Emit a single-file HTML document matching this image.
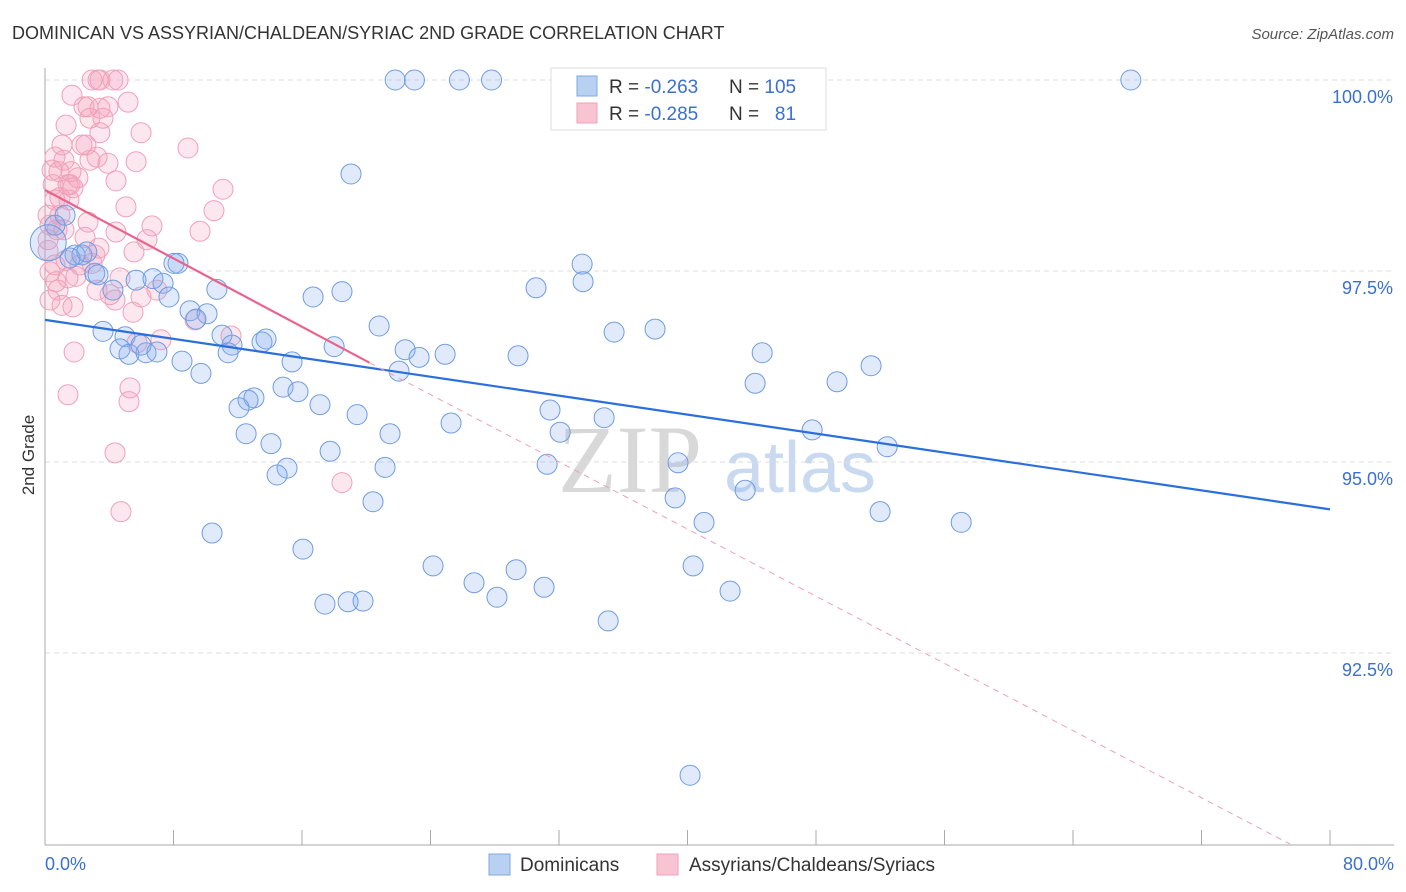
<!DOCTYPE html>
<html><head><meta charset="utf-8"><style>
body{margin:0;background:#fff;font-family:"Liberation Sans",sans-serif;}
svg{display:block}
</style></head><body>
<svg id="chart" width="1406" height="892">
<text x="12" y="39" font-size="18" fill="#333">DOMINICAN VS ASSYRIAN/CHALDEAN/SYRIAC 2ND GRADE CORRELATION CHART</text>
<text x="1394" y="39" font-size="15" fill="#555" text-anchor="end" font-style="italic">Source: ZipAtlas.com</text>
<text x="34" y="455" font-size="17" fill="#333" text-anchor="middle" transform="rotate(-90 34 455)">2nd Grade</text>
<text x="630" y="492" font-size="96" fill="#d8d8d8" font-family="Liberation Serif,serif" text-anchor="middle">ZIP</text>
<text x="800" y="492" font-size="72" fill="#c9daf0" text-anchor="middle">atlas</text>
<g id="grid"></g><g id="axes"></g><g id="pink"></g><g id="blue"></g><g id="lines"></g>
<g>
<rect x="551" y="68" width="275" height="62" fill="#fff" stroke="#ddd"/>
<rect x="577" y="76" width="20" height="20" fill="#b8d0f2" stroke="#7fa8e0"/>
<rect x="577" y="103" width="20" height="20" fill="#f8c4d2" stroke="#eea0b8"/>
<text x="609" y="93" font-size="19" fill="#333">R = <tspan fill="#3a70d0">-0.263</tspan></text>
<text x="729" y="93" font-size="19" fill="#333">N = <tspan fill="#3a70d0">105</tspan></text>
<text x="609" y="120" font-size="19" fill="#333">R = <tspan fill="#3a70d0">-0.285</tspan></text>
<text x="729" y="120" font-size="19" fill="#333">N = <tspan fill="#3a70d0">&#160;&#160;81</tspan></text>
</g>
<g>
<rect x="489" y="854" width="21" height="21" fill="#b8d0f2" stroke="#7fa8e0"/>
<text x="520" y="871" font-size="19" fill="#333">Dominicans</text>
<rect x="657" y="854" width="21" height="21" fill="#f8c4d2" stroke="#eea0b8"/>
<text x="689" y="871" font-size="19" fill="#333">Assyrians/Chaldeans/Syriacs</text>
</g>
</svg>
<script>
const blueX=[21.8,23.0,25.8,27.8,67.6,19.05,1.25,0.62,1.87,2.3,2.6,1.56,0.2,3.1,3.3,5.67,6.72,7.35,8.28,8.03,4.23,10.7,7.72,9.03,10.09,9.4,16.69,18.49,30.57,33.44,33.5,3.61,4.98,4.67,5.23,6.29,6.97,5.98,8.53,9.71,11.02,11.64,11.4,13.51,13.76,15.38,18.0,20.8,22.42,23.29,24.91,29.45,22.04,35.43,37.98,44.65,44.21,49.31,51.43,14.82,15.75,13.01,12.64,12.08,17.12,19.43,21.48,25.28,31.44,34.81,32.07,12.52,14.07,17.75,15.07,14.45,21.17,31.26,39.41,47.76,52.43,20.42,39.23,41.03,43.59,51.99,57.04,10.4,16.06,24.16,29.33,26.71,28.14,31.07,17.43,18.87,19.8,35.06,40.35,42.65,40.16];
const blueY=[100,100,100,100,100,98.77,98.23,98.10,97.71,97.71,97.75,97.67,97.87,97.47,97.45,97.38,97.40,97.34,97.60,97.60,97.25,97.26,97.16,96.98,96.94,96.87,97.16,97.23,97.28,97.59,97.36,96.71,96.64,96.48,96.41,96.43,96.44,96.53,96.32,96.16,96.66,96.53,96.43,96.57,96.61,96.31,96.51,96.78,96.47,96.37,96.41,96.39,96.19,96.70,96.74,96.43,96.03,96.05,96.26,95.98,95.92,95.84,95.81,95.71,95.75,95.62,95.37,95.51,95.68,95.58,95.39,95.37,95.24,95.14,94.92,94.83,94.93,94.97,94.99,95.42,95.20,94.48,94.53,94.21,94.63,94.35,94.21,94.07,93.86,93.64,93.59,93.42,93.23,93.36,93.14,93.17,93.18,92.92,93.64,93.31,90.90];
const pinkX=[2.93,3.3,4.23,4.55,3.42,1.68,2.43,2.68,3.92,5.17,1.31,2.8,3.61,2.3,3.42,5.98,8.9,0.62,1.18,3.24,3.92,5.67,0.87,1.62,2.05,1.43,0.5,4.42,11.08,0.62,1.49,5.04,10.52,0.93,2.68,6.66,9.65,0.31,2.49,3.36,5.54,6.35,0.19,2.93,1.43,0.68,1.93,3.24,4.36,5.98,6.97,0.31,0.31,1.06,1.74,5.48,9.34,11.58,5.73,1.81,5.29,5.23,1.43,4.36,18.49,4.73,0.19,0.93,1.56,0.75,1.31,0.19,2.18,0.62,0.44,1.06,2.55,1.74,3.11,4.05,3.42,2.8,1.18,0.81,4.67,7.22,4.42];
const pinkY=[100,100,100,100,100,99.80,99.65,99.65,99.65,99.71,99.41,99.50,99.50,99.15,99.31,99.31,99.11,98.99,98.95,98.99,98.91,98.93,98.80,98.80,98.72,98.63,98.63,98.68,98.57,98.43,98.43,98.34,98.29,98.23,98.14,98.09,98.02,98.10,97.94,97.80,97.75,97.91,97.91,97.60,97.41,97.36,97.43,97.25,97.12,97.16,97.25,97.49,97.12,97.05,97.03,96.96,96.86,96.65,96.56,96.44,95.97,95.79,95.88,95.12,94.73,94.35,98.23,98.46,98.63,98.04,97.64,97.77,97.58,97.58,98.82,99.15,99.15,98.59,97.71,97.19,99.63,98.95,98.04,97.25,97.41,96.60,98.01];
const yTicks=[100,97.5,95,92.5];
const yTickLabels=["100.0%","97.5%","95.0%","92.5%"];
const blueTrend=[[0,96.86],[80,94.38]];
const pinkTrend=[[0,98.56],[20.2,96.30],[77.5,90]];
const NS="http://www.w3.org/2000/svg";
const X0=45,X1=1330,Y0=80,Y1=844;
const sx=v=>X0+(v/80)*(X1-X0);
const sy=v=>Y0+(100-v)/10*(Y1-Y0);
function mk(tag,attrs,parent){const e=document.createElementNS(NS,tag);for(const k in attrs)e.setAttribute(k,attrs[k]);parent.appendChild(e);return e;}
const grid=document.getElementById('grid'),axes=document.getElementById('axes');
yTicks.forEach((t,i)=>{
 const l=mk('line',{x1:X0,x2:1394,y1:sy(t),y2:sy(t),stroke:'#ddd','stroke-dasharray':'5,4'},grid);
 
 
 const tx=mk('text',{x:1393,y:sy(t)+23,'font-size':18,fill:'#3a70d0','text-anchor':'end'},axes);
 tx.textContent=yTickLabels[i];
 
 
});
const ax=mk('line',{x1:X0,x2:X0,y1:68,y2:845,stroke:'#aaa'},axes);


const bx=mk('line',{x1:X0,x2:1394,y1:845,y2:845,stroke:'#aaa'},axes);


for(let i=0;i<=10;i++){
 const t=mk('line',{x1:sx(i*8),x2:sx(i*8),y1:830,y2:845,stroke:'#aaa'},axes);
 
 
}
const xl=mk('text',{x:45,y:870,'font-size':18,fill:'#3a70d0'},axes);xl.textContent='0.0%';


const xr=mk('text',{x:1394,y:870,'font-size':18,fill:'#3a70d0','text-anchor':'end'},axes);xr.textContent='80.0%';


function pts(xs,ys,g,fill,stroke,name){
 xs.forEach((x,i)=>{
  const r=(name==='dominican-point'&&i===12)?18:10;
  const c=mk('circle',{cx:sx(x),cy:sy(ys[i]),r:r,fill:fill,stroke:stroke,'stroke-width':1},g);
  
  
 });
}
pts(pinkX,pinkY,document.getElementById('pink'),'rgba(244,160,188,0.25)','#f0a0b8','assyrian-point');
pts(blueX,blueY,document.getElementById('blue'),'rgba(130,172,238,0.25)','#6f9ce0','dominican-point');
const lg=document.getElementById('lines');
const b=mk('line',{x1:sx(blueTrend[0][0]),y1:sy(blueTrend[0][1]),x2:sx(blueTrend[1][0]),y2:sy(blueTrend[1][1]),stroke:'#2a6fdb','stroke-width':2.2},lg);


const p=mk('line',{x1:sx(pinkTrend[0][0]),y1:sy(pinkTrend[0][1]),x2:sx(pinkTrend[1][0]),y2:sy(pinkTrend[1][1]),stroke:'#e8648e','stroke-width':2.2},lg);


const pd=mk('line',{x1:sx(pinkTrend[1][0]),y1:sy(pinkTrend[1][1]),x2:sx(pinkTrend[2][0]),y2:sy(pinkTrend[2][1]),stroke:'#eea0b8','stroke-width':1,'stroke-dasharray':'6,5'},lg);


</script>
</body></html>
